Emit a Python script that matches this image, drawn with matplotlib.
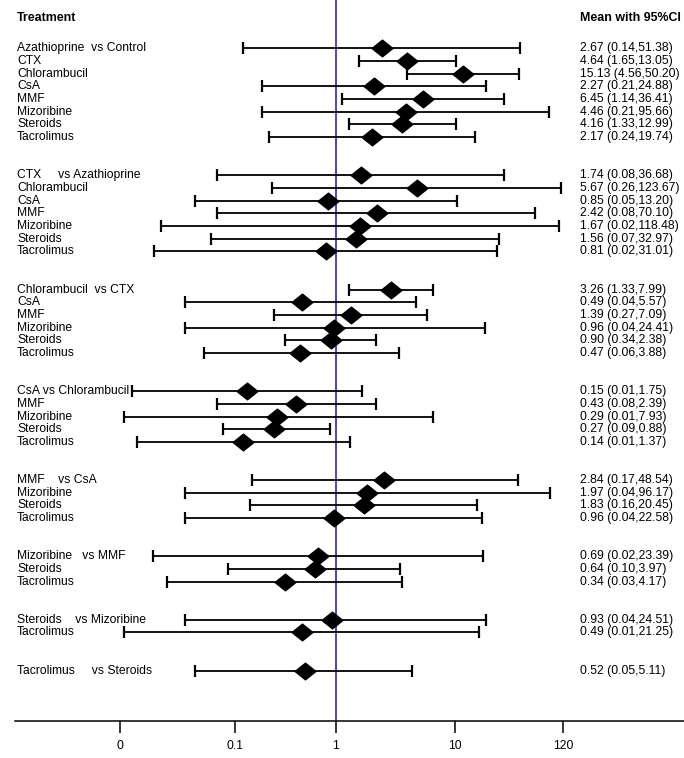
import matplotlib.pyplot as plt
import matplotlib.transforms as mtransforms
from matplotlib.path import Path

plt.rcParams["font.family"] = ["Liberation Sans", "DejaVu Sans"]

# one group per reference treatment, names as printed in the left column
group_titles = [
    "Azathioprine  vs Control",
    "CTX     vs Azathioprine",
    "Chlorambucil  vs CTX",
    "CsA vs Chlorambucil",
    "MMF    vs CsA",
    "Mizoribine   vs MMF",
    "Steroids    vs Mizoribine",
    "Tacrolimus     vs Steroids",
]
group_rest = [
    ["CTX", "Chlorambucil", "CsA", "MMF", "Mizoribine", "Steroids", "Tacrolimus"],
    ["Chlorambucil", "CsA", "MMF", "Mizoribine", "Steroids", "Tacrolimus"],
    ["CsA", "MMF", "Mizoribine", "Steroids", "Tacrolimus"],
    ["MMF", "Mizoribine", "Steroids", "Tacrolimus"],
    ["Mizoribine", "Steroids", "Tacrolimus"],
    ["Steroids", "Tacrolimus"],
    ["Tacrolimus"],
    [],
]

means = [2.67, 4.64, 15.13, 2.27, 6.45, 4.46, 4.16, 2.17,
         1.74, 5.67, 0.85, 2.42, 1.67, 1.56, 0.81,
         3.26, 0.49, 1.39, 0.96, 0.90, 0.47,
         0.15, 0.43, 0.29, 0.27, 0.14,
         2.84, 1.97, 1.83, 0.96,
         0.69, 0.64, 0.34,
         0.93, 0.49,
         0.52]
# very small lower limits carry an extra digit
lows = [0.14, 1.65, 4.56, 0.21, 1.14, 0.21, 1.33, 0.24,
        0.08, 0.26, 0.05, 0.08, 0.024, 0.07, 0.021,
        1.33, 0.04, 0.27, 0.04, 0.34, 0.06,
        0.013, 0.08, 0.011, 0.09, 0.0145,
        0.17, 0.04, 0.16, 0.04,
        0.0204, 0.10, 0.0275,
        0.04, 0.011,
        0.05]
highs = [51.38, 13.05, 50.20, 24.88, 36.41, 95.66, 12.99, 19.74,
         36.68, 123.67, 13.20, 70.10, 118.48, 32.97, 31.01,
         7.99, 5.57, 7.09, 24.41, 2.38, 3.88,
         1.75, 2.39, 7.93, 0.88, 1.37,
         48.54, 96.17, 20.45, 22.58,
         23.39, 3.97, 4.17,
         24.51, 21.25,
         5.11]

tick_labels = ["0", "0.1", "1", "10", "120"]
tick_at = [0.01, 0.117, 1, 12.8, 128]

# row positions: groups separated by two empty rows
labels, rows = [], []
r = 0
for title, rest in zip(group_titles, group_rest):
    for name in [title] + rest:
        labels.append(name)
        rows.append(r)
        r += 1
    r += 2

fig = plt.figure(figsize=(6.84, 7.58), dpi=100)
ax = fig.add_axes([15 / 684, 37 / 758, 669 / 684, 721 / 758])
ax.set_xscale("log")
ax.set_xlim(10 ** ((15 - 335.5) / 108), 10 ** ((684 - 335.5) / 108))
ax.set_ylim(52.97, -3.8)

for side in ["top", "left", "right"]:
    ax.spines[side].set_visible(False)
ax.spines["bottom"].set_linewidth(1.1)
ax.set_yticks([])
ax.minorticks_off()
ax.set_xticks(tick_at)
ax.set_xticklabels(tick_labels)
ax.tick_params(axis="x", direction="out", length=8.5, width=1.1, pad=5, labelsize=8.7)

ax.axvline(1, color="#2a2ab8", lw=1.2, zorder=1)

err_lo = [m - l for m, l in zip(means, lows)]
err_hi = [h - m for m, h in zip(means, highs)]
ax.errorbar(means, rows, xerr=[err_lo, err_hi], fmt="none", ecolor="black",
            elinewidth=1.3, capsize=4.5, capthick=1.6, zorder=2)

diamond = Path([(-1, 0), (0, 0.8), (1, 0), (0, -0.8), (-1, 0)],
               [Path.MOVETO, Path.LINETO, Path.LINETO, Path.LINETO, Path.CLOSEPOLY])
ax.plot(means, rows, linestyle="none", marker=diamond, markersize=15,
        color="black", zorder=3)

trans = mtransforms.blended_transform_factory(ax.transAxes, ax.transData)
left_x = (17 - 15) / 669
right_x = (580 - 15) / 669
for name, y, m, l, h in zip(labels, rows, means, lows, highs):
    ax.text(left_x, y, name, transform=trans, va="center", ha="left", fontsize=8.7)
    ax.text(right_x, y, f"{m:.2f} ({l:.2f},{h:.2f})", transform=trans,
            va="center", ha="left", fontsize=8.7)

header_y = (17.7 - 48.3) / 12.7
ax.text(left_x, header_y, "Treatment", transform=trans, va="center", ha="left",
        fontsize=8.9, fontweight="bold")
ax.text(right_x, header_y, "Mean with 95%CI", transform=trans, va="center",
        ha="left", fontsize=8.9, fontweight="bold")

fig.savefig("out.png", dpi=100)
